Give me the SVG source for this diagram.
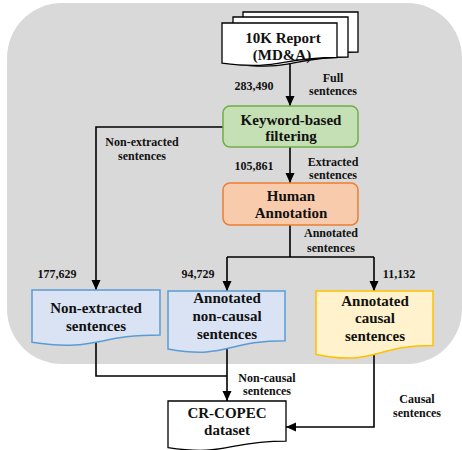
<svg xmlns="http://www.w3.org/2000/svg" width="462" height="450" viewBox="0 0 462 450">
<style>
text{font-family:"Liberation Serif","Times New Roman",serif;font-weight:bold;fill:#111;text-anchor:middle}
.n{font-size:15px}
.l{font-size:12px}
.c{fill:none;stroke:#000;stroke-width:1.6}
.doc{fill:#fff;stroke:#000;stroke-width:1.3}
.blue{fill:#dae3f3;stroke:#5b9bd5;stroke-width:1.5}
.yel{fill:#fff2cc;stroke:#ffc000;stroke-width:1.5}
</style>
<defs>
<marker id="ah" markerUnits="userSpaceOnUse" markerWidth="10" markerHeight="10" refX="10" refY="5" orient="auto">
<path d="M0,0.5 L10,5 L0,9.5 Z" fill="#000"/>
</marker>
</defs>
<rect id="panel" x="7" y="3" width="455" height="361" rx="55" ry="55" fill="#d9d9d9"/>
<g id="connectors">
<path class="c" d="M290,62 V106" marker-end="url(#ah)"/>
<path class="c" d="M290,147 V183" marker-end="url(#ah)"/>
<path class="c" d="M223,127 H96 V290" marker-end="url(#ah)"/>
<path class="c" d="M290,225 V257 M227,257 H374"/>
<path class="c" d="M227,257 V291" marker-end="url(#ah)"/>
<path class="c" d="M374,257 V291" marker-end="url(#ah)"/>
<path class="c" d="M96,340 V376 H227"/>
<path class="c" d="M227,345 V401" marker-end="url(#ah)"/>
<path class="c" d="M374,350 V427 H286" marker-end="url(#ah)"/>
</g>
<g id="report">
<path class="doc" d="M243,12 H358 V52 C300.5,52 300.5,67 243,58.5 Z"/>
<path class="doc" d="M233,17 H348 V57 C290.5,57 290.5,72 233,63.5 Z"/>
<path class="doc" d="M222,23 H337 V57.5 C279.5,57.5 279.5,70.6 222,63.2 Z"/>
<text class="n" x="283" y="43">10K Report</text>
<text class="n" x="282" y="60">(MD&amp;A)</text>
</g>
<g id="filtering">
<rect x="223" y="106" width="135" height="41" rx="7" fill="#c5e0b4" stroke="#70ad47" stroke-width="1.5"/>
<text class="n" x="291" y="125">Keyword-based</text>
<text class="n" x="291" y="141">filtering</text>
</g>
<g id="annotation">
<rect x="223" y="183" width="135" height="42" rx="7" fill="#f8cbad" stroke="#ed7d31" stroke-width="1.5"/>
<text class="n" x="291" y="201">Human</text>
<text class="n" x="291" y="218">Annotation</text>
</g>
<g id="nonextracted">
<path class="blue" d="M32,290 H160 V334.9 C96,334.9 96,352 32,342.3 Z"/>
<text class="n" x="96" y="313">Non-extracted</text>
<text class="n" x="96" y="331">sentences</text>
</g>
<g id="noncausal">
<path class="blue" d="M168,291 H285 V340.7 C226.5,340.7 226.5,359.6 168,348.9 Z"/>
<text class="n" x="227" y="303">Annotated</text>
<text class="n" x="227" y="321">non-causal</text>
<text class="n" x="227" y="339">sentences</text>
</g>
<g id="causal">
<path class="yel" d="M316,291 H433 V345.5 C374.5,345.5 374.5,366.3 316,354.5 Z"/>
<text class="n" x="375" y="306">Annotated</text>
<text class="n" x="375" y="323">causal</text>
<text class="n" x="375" y="341">sentences</text>
</g>
<g id="dataset">
<path class="doc" d="M168,401 H286 V441.1 C227,441.1 227,456.4 168,447.7 Z"/>
<text class="n" x="227" y="418">CR-COPEC</text>
<text class="n" x="227" y="435">dataset</text>
</g>
<g id="labels">
<text class="l" x="254" y="90">283,490</text>
<text class="l" x="333" y="82">Full</text>
<text class="l" x="333" y="95">sentences</text>
<text class="l" x="254" y="170">105,861</text>
<text class="l" x="333" y="166">Extracted</text>
<text class="l" x="333" y="179">sentences</text>
<text class="l" x="142" y="146">Non-extracted</text>
<text class="l" x="142" y="160">sentences</text>
<text class="l" x="331" y="237">Annotated</text>
<text class="l" x="331" y="252">sentences</text>
<text class="l" x="57" y="278">177,629</text>
<text class="l" x="198" y="278">94,729</text>
<text class="l" x="399" y="278">11,132</text>
<text class="l" x="267" y="382">Non-causal</text>
<text class="l" x="267" y="395">sentences</text>
<text class="l" x="417" y="403">Causal</text>
<text class="l" x="417" y="417">sentences</text>
</g>
</svg>
